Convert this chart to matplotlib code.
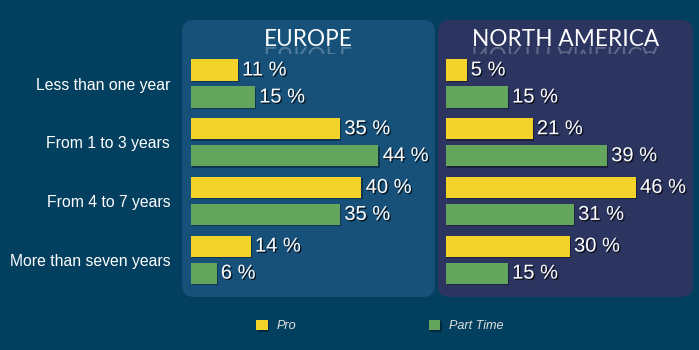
import matplotlib
matplotlib.use('Agg')
import matplotlib.pyplot as plt
import matplotlib.patheffects as pe
from matplotlib.patches import FancyBboxPatch, PathPatch, Rectangle
from matplotlib.textpath import TextPath
from matplotlib.font_manager import FontProperties
from matplotlib.transforms import Affine2D

# data
categories = ['Less than one year', 'From 1 to 3 years', 'From 4 to 7 years', 'More than seven years']
regions = ['EUROPE', 'NORTH AMERICA']
pro = {'EUROPE': [11, 35, 40, 14], 'NORTH AMERICA': [5, 21, 46, 30]}
part_time = {'EUROPE': [15, 44, 35, 6], 'NORTH AMERICA': [15, 39, 31, 15]}
series_names = ['Pro', 'Part Time']

BG = '#033f5f'
PANEL = {'EUROPE': '#17517a', 'NORTH AMERICA': '#2c3560'}
YELLOW = '#f3d329'
GREEN = '#63a55c'
W, H = 699, 350

plt.rcParams['font.family'] = ['Liberation Sans', 'DejaVu Sans']

fig = plt.figure(figsize=(W / 100, H / 100), dpi=100, facecolor=BG)

# overlay in pixel coords (y down) for panels and titles
bg = fig.add_axes([0, 0, 1, 1])
bg.set_xlim(0, W)
bg.set_ylim(H, 0)
bg.axis('off')
bg.set_zorder(0)

panels = {'EUROPE': (182, 20, 253, 277), 'NORTH AMERICA': (438, 20, 255, 277)}
title_fp = FontProperties(family='Lato')
for name, (x0, y0, pw, ph) in panels.items():
    bg.add_patch(FancyBboxPatch((x0, y0), pw, ph, boxstyle='round,pad=0,rounding_size=12',
                                fc=PANEL[name], ec='none'))
    cx = x0 + pw / 2
    bg.text(cx, 46, name, color='white', fontsize=16.3, family='Lato',
            ha='center', va='baseline')
    # faint reflection under the title
    tp = TextPath((0, 0), name, size=22.6, prop=title_fp)
    ext = tp.get_extents()
    tr = Affine2D().translate(-(ext.x0 + ext.x1) / 2, 0).translate(cx, 47) + bg.transData
    refl = PathPatch(tp, fc='white', ec='none', alpha=0.25, transform=tr)
    bg.add_patch(refl)
    refl.set_clip_path(Rectangle((x0, 47), pw, 7, transform=bg.transData))

# bar axes
pitch = 58.7
top = 83.5 - pitch / 2
bottom = 83.5 + 3.5 * pitch
axes_px = {'EUROPE': (191, 4.26, 56), 'NORTH AMERICA': (446, 4.13, 60)}
ypos = list(range(len(categories)))
off = 0.23
bh = 0.36
shadow = [pe.withSimplePatchShadow(offset=(1, -1), shadow_rgbFace='black', alpha=0.35)]
txt_shadow = [pe.withSimplePatchShadow(offset=(1, -1), shadow_rgbFace='black', alpha=0.7)]

handles = []
for name in regions:
    left, scale, xmax = axes_px[name]
    ax = fig.add_axes([left / W, 1 - bottom / H, xmax * scale / W, (bottom - top) / H])
    ax.set_zorder(1)
    ax.patch.set_alpha(0)
    ax.set_xlim(0, xmax)
    ax.set_ylim(3.5, -0.5)
    b1 = ax.barh([y - off for y in ypos], pro[name], height=bh, color=YELLOW, path_effects=shadow)
    b2 = ax.barh([y + off for y in ypos], part_time[name], height=bh, color=GREEN, path_effects=shadow)
    handles = [b1, b2]
    for bars, vals in ((b1, pro[name]), (b2, part_time[name])):
        for bar, v in zip(bars, vals):
            ax.text(bar.get_width() + 1.0, bar.get_y() + bar.get_height() / 2, f'{v} %',
                    color='white', fontsize=14.5, va='center', ha='left',
                    path_effects=txt_shadow)
    for s in ax.spines.values():
        s.set_visible(False)
    ax.set_xticks([])
    if name == 'EUROPE':
        ax.set_yticks(ypos)
        ax.set_yticklabels(categories, color='white', fontsize=11.3)
        ax.tick_params(axis='y', length=0, pad=15)
    else:
        ax.set_yticks([])

leg = fig.legend(handles, series_names, loc='center', bbox_to_anchor=(380 / W, 1 - 326 / H),
                 ncol=2, frameon=False, handlelength=0.9, handleheight=0.9,
                 handletextpad=0.7, columnspacing=10.5,
                 prop=FontProperties(family='Liberation Sans', style='italic', size=9.1))
for t in leg.get_texts():
    t.set_color('#e0e0e0')

fig.savefig('out.png', dpi=100, facecolor=BG)
